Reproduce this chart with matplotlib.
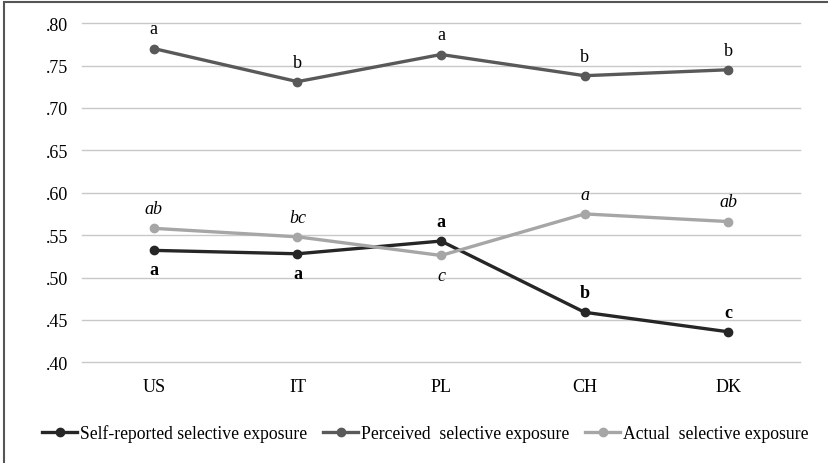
import matplotlib
matplotlib.use('Agg')
import matplotlib.pyplot as plt
from matplotlib.patches import Rectangle

plt.rcParams['font.family'] = ['Liberation Serif', 'DejaVu Serif']

countries = ['US', 'IT', 'PL', 'CH', 'DK']
self_reported = [0.532, 0.528, 0.543, 0.459, 0.436]
perceived = [0.770, 0.731, 0.763, 0.738, 0.745]
actual = [0.558, 0.548, 0.526, 0.575, 0.566]

self_letters = ['a', 'a', 'a', 'b', 'c']
self_above = [False, False, True, True, True]
perc_letters = ['a', 'b', 'a', 'b', 'b']
act_letters = ['ab', 'bc', 'c', 'a', 'ab']
act_above = [True, True, False, True, True]

yticks = [0.40, 0.45, 0.50, 0.55, 0.60, 0.65, 0.70, 0.75, 0.80]

fig = plt.figure(figsize=(8.29, 4.64), dpi=100)
ax = fig.add_axes([0.099, 0.217, 0.866, 0.731])

x = list(range(len(countries)))
ax.plot(x, self_reported, color='#262626', lw=2.4, marker='o', ms=6,
        label='Self-reported selective exposure', zorder=3)
ax.plot(x, perceived, color='#595959', lw=2.4, marker='o', ms=6,
        label='Perceived  selective exposure', zorder=3)
ax.plot(x, actual, color='#a6a6a6', lw=2.4, marker='o', ms=6,
        label='Actual  selective exposure', zorder=3)

# significance letters
fs = 13
for i in x:
    ax.annotate(perc_letters[i], (i, perceived[i]), xytext=(0, 8),
                textcoords='offset points', ha='center', va='bottom', fontsize=fs)
    off = 8 if act_above[i] else -8
    ax.annotate(act_letters[i], (i, actual[i]), xytext=(0, off),
                textcoords='offset points', ha='center',
                va='bottom' if act_above[i] else 'top', fontsize=fs, style='italic')
    off = 8 if self_above[i] else -8
    ax.annotate(self_letters[i], (i, self_reported[i]), xytext=(0, off),
                textcoords='offset points', ha='center',
                va='bottom' if self_above[i] else 'top', fontsize=fs, weight='bold')

ax.set_xlim(-0.5, 4.5)
ax.set_ylim(0.40, 0.80)
ax.set_yticks(yticks)
ax.set_yticklabels(['.{:02d}'.format(int(round(v * 100))) for v in yticks], fontsize=fs)
ax.set_xticks(x)
ax.set_xticklabels(countries, fontsize=fs)
ax.tick_params(axis='both', length=0)
ax.tick_params(axis='y', pad=10)
ax.tick_params(axis='x', pad=11)
ax.grid(axis='y', color='#c8c8c8', lw=1)
for gl in ax.yaxis.get_gridlines():
    gl.set_clip_on(False)
ax.set_axisbelow(True)
for s in ax.spines.values():
    s.set_visible(False)

fig.legend(loc='center', bbox_to_anchor=(0.513, 0.065), ncol=3, frameon=False,
           fontsize=12.7, handlelength=2.0, handletextpad=0.15, columnspacing=0.9)

fig.patches.append(Rectangle((0.005, -0.01), 1.2, 1.003, transform=fig.transFigure,
                             fill=False, edgecolor='#555555', lw=1.5))

fig.savefig('out.png', dpi=100)
